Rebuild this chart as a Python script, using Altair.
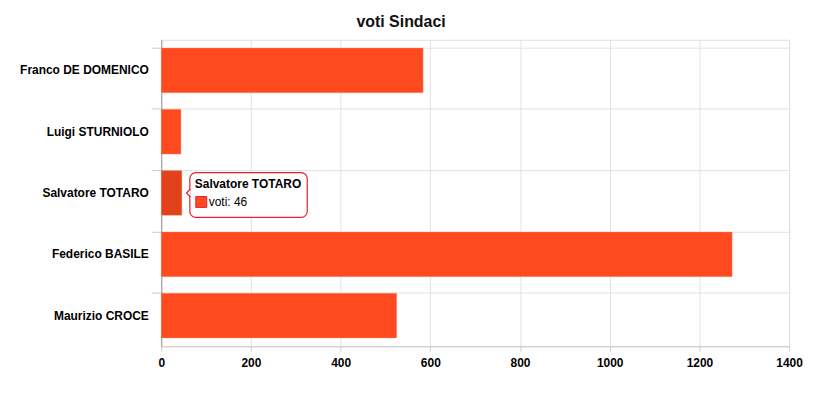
import altair as alt
import pandas as pd

nomi = ["Franco DE DOMENICO", "Luigi STURNIOLO", "Salvatore TOTARO", "Federico BASILE", "Maurizio CROCE"]
voti = [584, 44, 46, 1273, 525]
x_ticks = [0, 200, 400, 600, 800, 1000, 1200, 1400]
titolo = "voti Sindaci"
tip_nome = "Salvatore TOTARO"
tip_serie = "voti"

df = pd.DataFrame({"nome": nomi, "voti": voti})
tip = df[df["nome"] == tip_nome].copy()
tip["riga2"] = tip_serie + ": " + tip["voti"].astype(str)

FONT = "Liberation Sans"
BAR = "#FF4A1F"
HL = "#E2421B"
RED = "#E8202A"

y_enc = alt.Y("nome:N", sort=nomi, title=None,
              scale=alt.Scale(paddingInner=0.27),
              axis=alt.Axis(bandPosition=0, tickSize=10, labelPadding=3,
                            labelFontWeight="bold", labelFontSize=12, labelColor="#000",
                            gridColor="#e2e2e2", grid=True, tickColor="#cccccc",
                            domainColor="#999999"))
x_enc = alt.X("voti:Q", title=None,
              scale=alt.Scale(domain=[0, 1400], nice=False),
              axis=alt.Axis(values=x_ticks, format="d", tickSize=5, labelPadding=6,
                            labelFontWeight="bold", labelFontSize=12, labelColor="#000",
                            gridColor="#e2e2e2", tickColor="#cccccc",
                            domainColor="#cccccc", labelFlush=False))

bars = alt.Chart(df).mark_bar(stroke="#ff9a80", strokeWidth=0.6, strokeOpacity=0.6).encode(
    x=x_enc, y=y_enc,
    color=alt.condition(alt.datum.nome == tip_nome, alt.value(HL), alt.value(BAR)),
)

box = alt.Chart(tip).mark_rect(fill="white", stroke=RED, strokeWidth=1.2, cornerRadius=6,
                               xOffset=8, x2Offset=126, yOffset=2, y2Offset=-2).encode(
    x="voti:Q", x2="voti:Q", y=alt.Y("nome:N", sort=nomi))

notch = alt.Chart(tip).mark_point(shape="M 0 -1 L -1 0 L 0 1", size=64, filled=False,
                                  fill="white", fillOpacity=1, stroke=RED, strokeWidth=1.2,
                                  opacity=1, xOffset=8.6).encode(
    x="voti:Q", y=alt.Y("nome:N", sort=nomi))

t1 = alt.Chart(tip).mark_text(align="left", baseline="middle", dx=13, dy=-9,
                              font=FONT, fontSize=12, fontWeight="bold", color="#000").encode(
    x="voti:Q", y=alt.Y("nome:N", sort=nomi), text="nome:N")

t2 = alt.Chart(tip).mark_text(align="left", baseline="middle", dx=27, dy=9,
                              font=FONT, fontSize=12, color="#000").encode(
    x="voti:Q", y=alt.Y("nome:N", sort=nomi), text="riga2:N")

sq = alt.Chart(tip).mark_square(size=121, fill=BAR, stroke=RED, strokeWidth=1, opacity=1,
                                xOffset=19.5, yOffset=9).encode(
    x="voti:Q", y=alt.Y("nome:N", sort=nomi))

chart = alt.layer(bars, box, notch, t1, t2, sq).properties(
    width=631, height=308,
    title=alt.TitleParams(titolo, font=FONT, fontSize=16, fontWeight="bold", color="#111",
                          anchor="middle", frame="bounds", offset=10, dx=-10),
    padding={"left": 11, "top": 5, "right": 10, "bottom": 5},
).configure_view(stroke=None).configure(font=FONT)

chart.save("out.html", embed_options={"renderer": "svg", "actions": False})
